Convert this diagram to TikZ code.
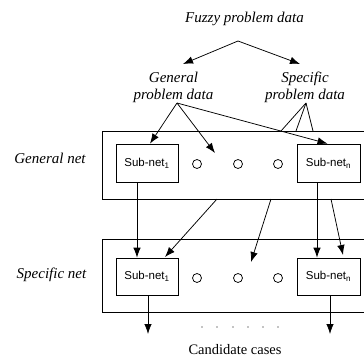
\documentclass[tikz,border=0pt]{standalone}
\usepackage{fontspec}
\setmainfont{Liberation Serif}
\setsansfont{Liberation Sans}
\usetikzlibrary{arrows.meta}
\begin{document}
\begin{tikzpicture}[x=1pt,y=-1pt,line width=0.75pt,
  >={Latex[length=10pt,width=7.5pt]},
  lbl/.style={inner sep=0pt,font=\fontsize{15}{16.5}\selectfont\itshape},
  subbox/.style={draw,minimum width=62pt,minimum height=38pt,inner sep=0pt,
    font=\fontsize{11.5}{13}\selectfont\sffamily},
  netbox/.style={draw,inner sep=0pt},
  ring/.style={draw,circle,minimum size=9pt,inner sep=0pt},
  dotmark/.style={fill,circle,minimum size=1.3pt,inner sep=0pt}]
\useasboundingbox (0,0) rectangle (364,356);
\clip (0,0) rectangle (364,356);

% texts
\node[lbl,anchor=base] (fuzzy) at (244.5,23) {Fuzzy problem data};
\node[lbl,align=center] (gpd) at (173.5,87.5) {General\\problem data};
\node[lbl,align=center] (spd) at (305,87.5) {Specific\\problem data};
\node[lbl,anchor=base] (glab) at (50,163) {General net};
\node[lbl,anchor=base] (slab) at (51.5,278) {Specific net};
\node[inner sep=0pt,anchor=base,font=\fontsize{14.5}{16}\selectfont] (cand) at (235,354) {Candidate cases};

% net frames
\node[netbox,minimum width=290pt,minimum height=68pt,anchor=north west] (gnet) at (102,131) {};
\node[netbox,minimum width=290pt,minimum height=73pt,anchor=north west] (snet) at (102,239) {};

% sub-nets
\node[subbox] (g1) at (147,163) {Sub-net\textsubscript{1}};
\node[subbox,minimum width=63pt] (gn) at (328.5,163) {Sub-net\textsubscript{n}};
\node[subbox,minimum height=37pt] (s1) at (147,276.5) {Sub-net\textsubscript{1}};
\node[subbox,minimum width=63pt,minimum height=37pt] (sn) at (328.5,276.5) {Sub-net\textsubscript{n}};

% circles
\node[ring] (gc1) at (197,164) {};
\node[ring] (gc2) at (238,164) {};
\node[ring] (gc3) at (278,164) {};
\node[ring] (sc1) at (197,278) {};
\node[ring] (sc2) at (238,278) {};
\node[ring] (sc3) at (278,278) {};

% dots
\foreach \i/\x in {1/202,2/217,3/233,4/248,5/263,6/278}
  \node[dotmark] (d\i) at (\x,327) {};

% coordinates
\coordinate (fz) at (238,41);
\coordinate (gtip) at (183,64);
\coordinate (stip) at (300,64);
\coordinate (ga) at (177,103);
\coordinate (sa) at (306,103);
\coordinate (gmid) at (215,153);
\coordinate (st1) at (281,131);
\coordinate (st2) at (296,131);
\coordinate (st3) at (313,131);
\coordinate (gb1) at (217,199);
\coordinate (gb2) at (271,199);
\coordinate (gb3) at (331,199);
\coordinate (smid) at (251,262);
\coordinate (s1tip) at (165,257);
\coordinate (sntip) at (343,255);
\coordinate (o1) at (148,334);
\coordinate (on) at (330,334);

% connectors
\draw[->] (fz) -- (gtip);
\draw[->] (fz) -- (stip);
\draw[->] (ga) -- ([xshift=3pt]g1.north);
\draw[->] (ga) -- (gmid);
\draw[->] (ga) -- ([xshift=-1pt]gn.north);
\draw (sa) -- (st1);
\draw (sa) -- (st2);
\draw (sa) -- (st3);
\draw[->] ([xshift=-10pt]g1.south) -- ([xshift=-10pt]s1.north);
\draw[->] (gb1) -- (s1tip);
\draw[->] (gb2) -- (smid);
\draw[->] ([xshift=-11.5pt]gn.south) -- ([xshift=-11.5pt]sn.north);
\draw[->] (gb3) -- (sntip);
\draw[->] ([xshift=1pt]s1.south) -- (o1);
\draw[->] ([xshift=1.5pt]sn.south) -- (on);
\end{tikzpicture}
\end{document}
